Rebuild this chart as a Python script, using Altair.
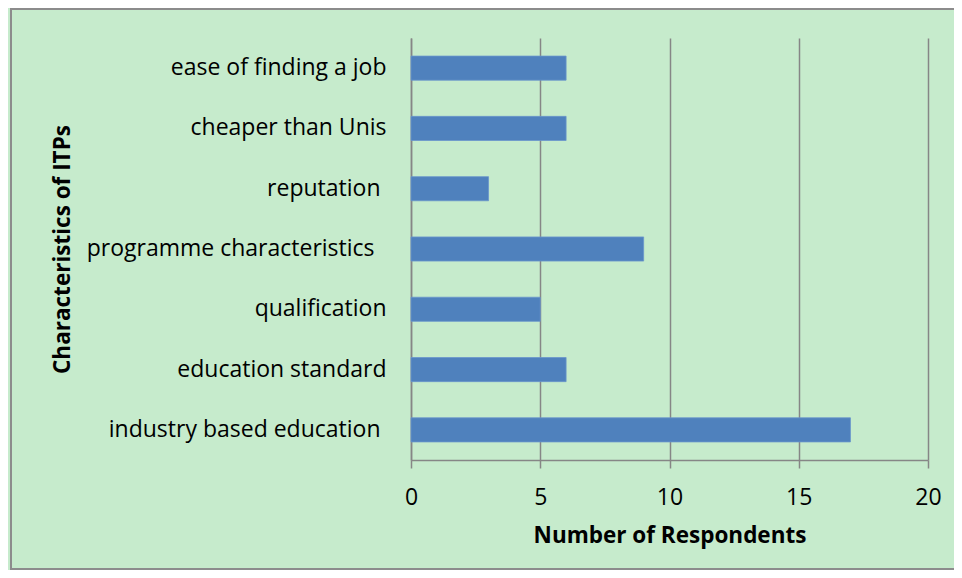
import altair as alt
import pandas as pd

categories = [
    "ease of finding a job",
    "cheaper than Unis",
    "reputation",
    "programme characteristics",
    "qualification",
    "education standard",
    "industry based education",
]
respondents = [6, 6, 3, 9, 5, 6, 17]
x_ticks = [0, 5, 10, 15, 20]

df = pd.DataFrame({"characteristic": categories, "respondents": respondents})

FONT = "Open Sans"
GRID = "#868686"
END = "\u2060"

label_expr = (
    f"datum.value == 'programme characteristics' ? datum.value + '\u00a0\u00a0{END}' : "
    f"(datum.value == 'reputation' || datum.value == 'industry based education') ? datum.value + '\u00a0{END}' : datum.value"
)

bars = alt.Chart(df).mark_bar(color="#4F81BD", stroke="#6a96cc", strokeWidth=0.8).encode(
    y=alt.Y(
        "characteristic:N",
        sort=categories,
        scale=alt.Scale(paddingInner=0.6, paddingOuter=0.3),
        axis=alt.Axis(
            title="Characteristics of ITPs",
            titleFont=FONT,
            titleFontSize=22.5,
            titleFontWeight="bold",
            titleColor="#000000",
            titleX=-349,
            titleBaseline="middle",
            labelFont=FONT,
            labelFontSize=23,
            labelColor="#000000",
            labelPadding=25,
            labelLimit=400,
            labelExpr=label_expr,
            ticks=False,
            domain=True,
            domainColor=GRID,
            domainWidth=1.5,
            grid=False,
        ),
    ),
    x=alt.X(
        "respondents:Q",
        scale=alt.Scale(domain=[0, 20], nice=False),
        axis=alt.Axis(
            values=x_ticks,
            title="Number of Respondents",
            titleFont=FONT,
            titleFontSize=22.5,
            titleFontWeight="bold",
            titleColor="#000000",
            titleY=75,
            titleBaseline="middle",
            labelFont=FONT,
            labelFontSize=23,
            labelColor="#000000",
            labelPadding=18,
            labelFlush=False,
            tickSize=8,
            tickColor=GRID,
            tickWidth=1.5,
            domainColor=GRID,
            domainWidth=1.5,
            grid=True,
            gridColor=GRID,
            gridWidth=1.5,
        ),
    ),
)

border = alt.Chart(pd.DataFrame({"v": [0]})).mark_rect(
    fill=None, stroke="#8c8c8c", strokeWidth=2
).encode(
    x=alt.value(-400),
    x2=alt.value(545),
    y=alt.value(-29),
    y2=alt.value(531),
)

chart = (
    alt.layer(border, bars)
    .properties(
        width=517,
        height=422,
        autosize=alt.AutoSizeParams(type="none"),
        padding={"left": 403, "top": 30, "right": 26, "bottom": 110},
    )
    .configure(background="#C6EBCC")
    .configure_view(stroke=None)
)

chart.save("out.html", embed_options={"renderer": "svg", "actions": False})
